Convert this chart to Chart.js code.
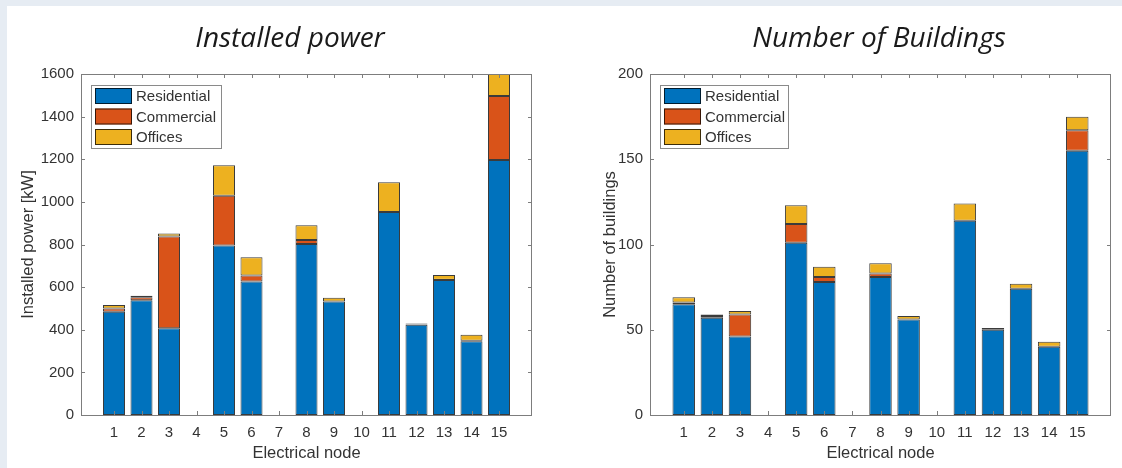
<!DOCTYPE html>
<html><head><meta charset="utf-8">
<script src="https://cdn.jsdelivr.net/npm/chart.js@4.4.1/dist/chart.umd.min.js"></script>
<style>
html,body{margin:0;padding:0;background:#e6ecf3;width:1122px;height:468px;overflow:hidden}
#panel{position:absolute;left:7px;top:6px;width:1115px;height:462px;background:#fff}
.wrap{position:absolute;top:0;height:468px}
canvas{display:block}
</style></head><body>
<div id="panel"></div>
<div class="wrap" style="left:0;width:560px"><canvas id="c1" width="560" height="468" style="width:560px;height:468px"></canvas></div>
<div class="wrap" style="left:560px;width:562px"><canvas id="c2" width="562" height="468" style="width:562px;height:468px"></canvas></div>
<script>
// ---- data ----
const nodes = ['1','2','3','4','5','6','7','8','9','10','11','12','13','14','15'];
const seriesNames = ['Residential','Commercial','Offices'];
const powerResidential = [485, 538, 407, 0, 795, 626, 0, 802, 532, 0, 953, 423, 634, 346, 1197];
const powerCommercial  = [15, 14, 430, 0, 234, 28, 0, 19, 0, 0, 0, 2, 0, 2, 300];
const powerOffices     = [16, 8, 15, 0, 143, 86, 0, 69, 18, 0, 139, 4, 23, 29, 105];
const buildingsResidential = [65, 57, 46, 0, 101, 78, 0, 81, 56, 0, 114, 50, 74, 40, 155];
const buildingsCommercial  = [1, 1, 13, 0, 11, 3, 0, 2, 0, 0, 0, 0, 0, 0, 12];
const buildingsOffices     = [3, 1, 2, 0, 11, 6, 0, 6, 2, 0, 10, 1, 3, 3, 8];
const powerTicks = [0,200,400,600,800,1000,1200,1400,1600];
const buildingTicks = [0,50,100,150,200];

const colors = ['#0072BD','#D95319','#EDB120'];
const TXT = '#333333';
const SANS = '"Liberation Sans", Arial, sans-serif';

function toPoints(arr){ return arr.map((v,i)=>({x:i+1, y: v===0 ? null : v})); }

const framePlugin = {
  id:'frame',
  afterDraw(chart, args, o){
    const ctx = chart.ctx;
    const {left,right,top,bottom} = chart.chartArea;
    ctx.save();
    ctx.strokeStyle = '#7d7d7d'; ctx.lineWidth = 1;
    ctx.strokeRect(left+0.5, top+0.5, right-left-1, bottom-top);
    ctx.beginPath();
    chart.scales.x.ticks.forEach(t=>{
      const x = Math.round(chart.scales.x.getPixelForValue(t.value))+0.5;
      ctx.moveTo(x, bottom); ctx.lineTo(x, bottom-4);
      ctx.moveTo(x, top); ctx.lineTo(x, top+4);
    });
    chart.scales.y.ticks.forEach(t=>{
      const y = Math.round(chart.scales.y.getPixelForValue(t.value))+0.5;
      ctx.moveTo(left, y); ctx.lineTo(left+4, y);
      ctx.moveTo(right, y); ctx.lineTo(right-4, y);
    });
    ctx.stroke();
    // legend
    const lx = left+10, ly = 85, lw = o.legendWidth, lh = 63;
    ctx.fillStyle = '#fff';
    ctx.fillRect(lx, ly, lw, lh);
    ctx.strokeStyle = '#8a8a8a';
    ctx.strokeRect(lx+0.5, ly+0.5, lw, lh);
    ctx.font = '15px ' + SANS;
    ctx.textBaseline = 'middle';
    chart.data.datasets.forEach((ds,i)=>{
      const cy = 96 + i*20.5;
      ctx.fillStyle = ds.backgroundColor;
      ctx.fillRect(lx+4, cy-8, 37, 16);
      ctx.strokeStyle = 'rgba(0,0,0,0.75)';
      ctx.strokeRect(lx+4.5, cy-7.5, 36, 15);
      ctx.fillStyle = TXT;
      ctx.fillText(ds.label, lx+45, cy+1);
    });
    // title
    ctx.font = 'italic 28px "Open Sans", sans-serif';
    ctx.fillStyle = '#1a1a1a';
    ctx.textAlign = 'center';
    ctx.textBaseline = 'middle';
    ctx.fillText(o.title, o.titleX, 39);
    ctx.restore();
  }
};

function makeChart(id, sets, ytickVals, ymax, yTitle, opts){
  const datasets = sets.map((arr,i)=>({
    label: seriesNames[i],
    data: toPoints(arr),
    backgroundColor: colors[i],
    borderColor: 'rgba(25,25,25,0.85)',
    borderWidth: 1,
    borderSkipped: false,
    categoryPercentage: 0.8,
    barPercentage: 1.0
  }));
  return new Chart(document.getElementById(id), {
    type: 'bar',
    data: { datasets },
    options: {
      responsive: false,
      animation: false,
      layout: { padding: { left: 0, right: opts.padRight, top: 74, bottom: 0 } },
      plugins: { legend: { display: false }, tooltip: { enabled: false },
        frame: { title: opts.title, titleX: opts.titleX, legendWidth: opts.legendWidth } },
      scales: {
        x: {
          type: 'linear', stacked: true, min: -0.2, max: 16.2, offset: false,
          grid: { display: false, drawTicks: false, offset: false }, border: { display: false },
          afterBuildTicks: (axis)=>{ axis.ticks = nodes.map((n,i)=>({value:i+1})); },
          afterFit: (s)=>{ s.height = 53; },
          ticks: { autoSkip: false, maxRotation: 0, padding: 9, color: TXT,
            font: { family: SANS, size: 15 },
            callback: (v)=> nodes[v-1] },
          title: { display: true, text: 'Electrical node', color: TXT,
            font: { family: SANS, size: 16.5 }, padding: { top: 0, bottom: 5 } }
        },
        y: {
          stacked: true, min: 0, max: ymax,
          grid: { display: false, drawTicks: false }, border: { display: false },
          afterBuildTicks: (axis)=>{ axis.ticks = ytickVals.map(v=>({value:v})); },
          afterFit: (s)=>{ s.width = opts.yWidth; },
          ticks: { padding: 7, color: TXT, font: { family: SANS, size: 15 },
            callback: (v)=> String(v) },
          title: { display: true, text: yTitle, color: TXT,
            font: { family: SANS, size: 16.5 }, padding: { top: opts.yTitlePad, bottom: 0 } }
        }
      }
    },
    plugins: [framePlugin]
  });
}

makeChart('c1', [powerResidential, powerCommercial, powerOffices], powerTicks, 1600,
  'Installed power [kW]', { padRight: 28, yWidth: 81, yTitlePad: 19, title: 'Installed power', titleX: 290, legendWidth: 130 });
makeChart('c2', [buildingsResidential, buildingsCommercial, buildingsOffices], buildingTicks, 200,
  'Number of buildings', { padRight: 11, yWidth: 90, yTitlePad: 41, title: 'Number of Buildings', titleX: 319, legendWidth: 128 });
</script>
</body></html>
